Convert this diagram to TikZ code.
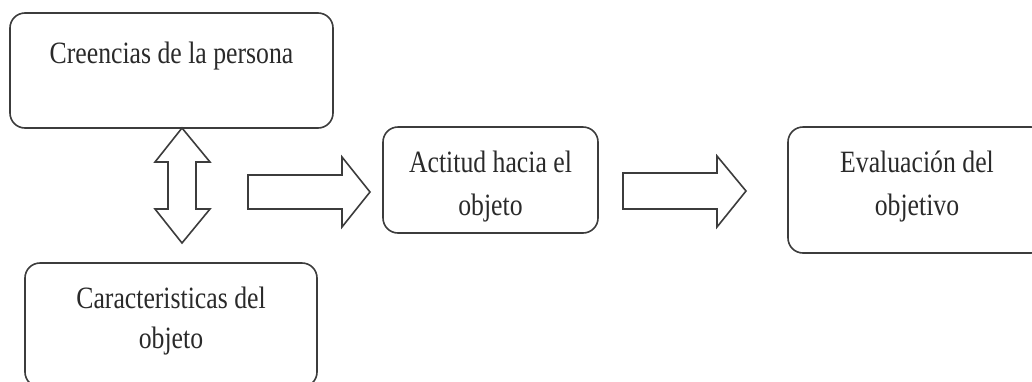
\documentclass[tikz,border=0pt]{standalone}
\usepackage{fontspec}
\setmainfont{Liberation Serif}
\definecolor{linegray}{HTML}{3C3C3C}
\definecolor{textgray}{HTML}{2A2A2A}
% slightly condensed serif text
\newcommand{\narrowtext}[1]{\scalebox{0.83}[1]{#1}}
\begin{document}
\begin{tikzpicture}[x=1pt,y=-1pt,
  box/.style={draw=linegray, line width=1.6pt, rounded corners=15pt, fill=white, inner sep=0pt},
  lbl/.style={anchor=base, inner sep=0pt, text=textgray, font=\fontsize{31}{38}\selectfont},
  blockarrow/.style={draw=linegray, line width=1.6pt, fill=white, line join=miter}]
\useasboundingbox (0,0) rectangle (1032,381);
\clip (0,0) rectangle (1032,381);

% boxes
\node[box, minimum width=323pt, minimum height=115pt] (b1) at (171.5,70.5) {};
\node[box, minimum width=292pt, minimum height=124pt] (b2) at (171,325) {};
\node[box, minimum width=215pt, minimum height=106pt] (b3) at (490.5,180) {};
\node[box, minimum width=258pt, minimum height=126pt] (b4) at (917,190) {};

% labels
\node[lbl] (t1)  at (171.5,63) {\narrowtext{Creencias de la persona}};
\node[lbl] (t2a) at (171,308)  {\narrowtext{Caracteristicas del}};
\node[lbl] (t2b) at (171,348)  {\narrowtext{objeto}};
\node[lbl] (t3a) at (490.5,172) {\narrowtext{Actitud hacia el}};
\node[lbl] (t3b) at (490.5,215) {\narrowtext{objeto}};
\node[lbl] (t4a) at (917,172)  {\narrowtext{Evaluación del}};
\node[lbl] (t4b) at (917,215)  {\narrowtext{objetivo}};

% two-headed block arrow between the left boxes
\draw[blockarrow] (182,128) -- (210,162) -- (196,162) -- (196,209) -- (210,209)
  -- (182,243) -- (155,209) -- (168,209) -- (168,162) -- (155,162) -- cycle;

% block arrow towards the attitude box
\draw[blockarrow] (248,175) -- (342,175) -- (342,157) -- (370,192) -- (342,227)
  -- (342,209) -- (248,209) -- cycle;

% block arrow towards the evaluation box
\draw[blockarrow] (623,173) -- (717,173) -- (717,156) -- (746,191) -- (717,227)
  -- (717,209) -- (623,209) -- cycle;
\end{tikzpicture}
\end{document}
